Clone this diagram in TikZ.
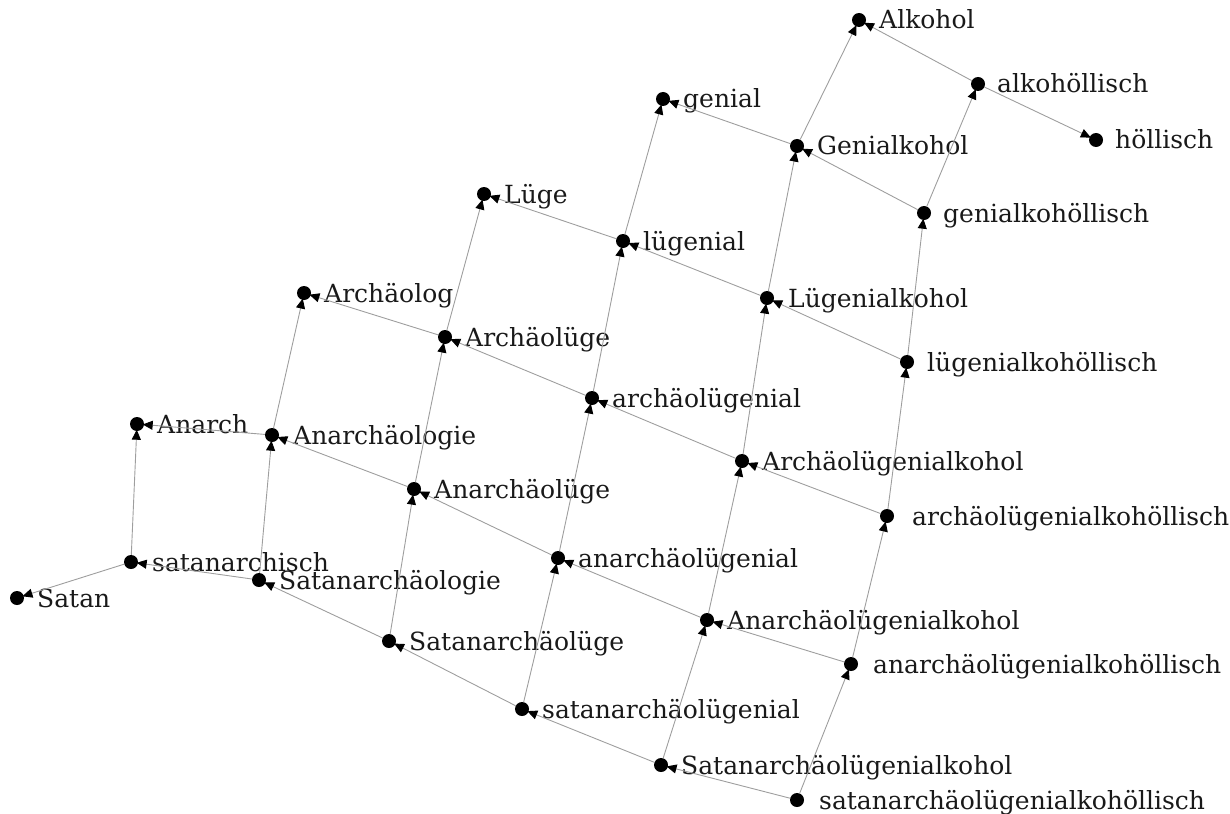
\documentclass[tikz,border=0pt]{standalone}
\usepackage{fontspec}
\setmainfont{DejaVu Serif}
\usetikzlibrary{arrows.meta}
\tikzset{
  dot/.style={circle, fill=black, minimum size=14pt, inner sep=0pt},
  lbl/.style={inner sep=0pt, font=\fontsize{25}{29}\selectfont, text=black!90},
  edge/.style={draw=black!38, line width=0.9pt, -{Triangle[length=10pt,width=9pt,color=black]}, shorten >=-1.5pt},
}
\newcommand{\wnode}[5]{%
  \node[dot] (#1) at (#2,#3) {};
  \node[lbl, anchor=base west] (#1-t) at (#2+#5,#3+9) {#4};}
\begin{document}
\begin{tikzpicture}[x=1pt,y=-1pt]
\useasboundingbox (0,0) rectangle (1230,813);
\wnode{n00}{17}{598}{Satan}{20}
\wnode{n01}{131}{562}{satanarchisch}{21}
\wnode{n11}{137}{424}{Anarch}{20}
\wnode{n02}{259}{580}{Satanarchäologie}{20}
\wnode{n12}{272}{435}{Anarchäologie}{21}
\wnode{n22}{304}{293}{Archäolog}{20}
\wnode{n03}{389}{641}{Satanarchäolüge}{20}
\wnode{n13}{414}{489}{Anarchäolüge}{20}
\wnode{n23}{445}{337}{Archäolüge}{20}
\wnode{n33}{484}{194}{Lüge}{20}
\wnode{n04}{522}{709}{satanarchäolügenial}{20}
\wnode{n14}{558}{558}{anarchäolügenial}{20}
\wnode{n24}{592}{398}{archäolügenial}{20}
\wnode{n34}{623}{241}{lügenial}{20}
\wnode{n44}{663}{99}{genial}{20}
\wnode{n05}{661}{765}{Satanarchäolügenialkohol}{20}
\wnode{n15}{707}{620}{Anarchäolügenialkohol}{20}
\wnode{n25}{742}{461}{Archäolügenialkohol}{20}
\wnode{n35}{767}{298}{Lügenialkohol}{21}
\wnode{n45}{797}{146}{Genialkohol}{20}
\wnode{n55}{859}{20}{Alkohol}{20}
\wnode{n06}{797}{800}{satanarchäolügenialkohöllisch}{22}
\wnode{n16}{851}{664}{anarchäolügenialkohöllisch}{22}
\wnode{n26}{887}{516}{archäolügenialkohöllisch}{25}
\wnode{n36}{907}{362}{lügenialkohöllisch}{20}
\wnode{n46}{924}{213}{genialkohöllisch}{19}
\wnode{n56}{978}{84}{alkohöllisch}{19}
\wnode{n66}{1096}{140}{höllisch}{19}
% span 2
\draw[edge] (n01) -- (n00); \draw[edge] (n01) -- (n11);
\draw[edge] (n12) -- (n11); \draw[edge] (n12) -- (n22);
\draw[edge] (n23) -- (n22); \draw[edge] (n23) -- (n33);
\draw[edge] (n34) -- (n33); \draw[edge] (n34) -- (n44);
\draw[edge] (n45) -- (n44); \draw[edge] (n45) -- (n55);
\draw[edge] (n56) -- (n55); \draw[edge] (n56) -- (n66);
% span 3
\draw[edge] (n02) -- (n01); \draw[edge] (n02) -- (n12);
\draw[edge] (n13) -- (n12); \draw[edge] (n13) -- (n23);
\draw[edge] (n24) -- (n23); \draw[edge] (n24) -- (n34);
\draw[edge] (n35) -- (n34); \draw[edge] (n35) -- (n45);
\draw[edge] (n46) -- (n45); \draw[edge] (n46) -- (n56);
% span 4
\draw[edge] (n03) -- (n02); \draw[edge] (n03) -- (n13);
\draw[edge] (n14) -- (n13); \draw[edge] (n14) -- (n24);
\draw[edge] (n25) -- (n24); \draw[edge] (n25) -- (n35);
\draw[edge] (n36) -- (n35); \draw[edge] (n36) -- (n46);
% span 5
\draw[edge] (n04) -- (n03); \draw[edge] (n04) -- (n14);
\draw[edge] (n15) -- (n14); \draw[edge] (n15) -- (n25);
\draw[edge] (n26) -- (n25); \draw[edge] (n26) -- (n36);
% span 6
\draw[edge] (n05) -- (n04); \draw[edge] (n05) -- (n15);
\draw[edge] (n16) -- (n15); \draw[edge] (n16) -- (n26);
% span 7
\draw[edge] (n06) -- (n05); \draw[edge] (n06) -- (n16);
\end{tikzpicture}
\end{document}
